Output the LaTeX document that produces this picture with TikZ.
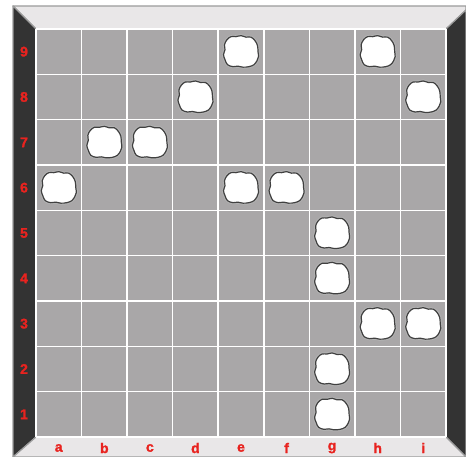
\documentclass[tikz,border=0pt]{standalone}
\usepackage{fontspec}
\setmainfont{Liberation Sans}
\newfontfamily\lblfont{Liberation Sans Bold}[FakeBold=1.5]
\begin{document}
\begin{tikzpicture}[x=1pt,y=-1pt,
  lightwall/.style={fill=wallLight,draw=rimGray,line width=1.2pt,line join=round},
  darkwall/.style={fill=wallDark,draw=rimGray,line width=1.2pt,line join=round},
  gridline/.style={draw=white,line width=1.6pt},
  lbl/.style={text=lblRed,font=\lblfont\fontsize{14}{14}\selectfont,inner sep=0pt},
  stoneshadow/.style={draw=black!30,line width=3.2pt},
  stonebody/.style={fill=white,draw=black!75,line width=1.2pt}]
\definecolor{wallLight}{HTML}{E9E7E8}
\definecolor{wallDark}{HTML}{333333}
\definecolor{rimGray}{HTML}{9C9C9C}
\definecolor{cellGray}{HTML}{A9A7A8}
\definecolor{lblRed}{HTML}{E8231F}
\useasboundingbox (0,0) rectangle (466,457);
% frame walls
\draw[lightwall] (13,6) -- (466,6) -- (466,10) -- (446,29) -- (36,29) -- cycle;
\draw[darkwall] (446,29) -- (466,10) -- (466,457) -- (446,437) -- cycle;
\draw[darkwall] (13,6) -- (36,29) -- (36,437) -- (13,457) -- cycle;
\draw[lightwall] (36,437) -- (446,437) -- (466,457) -- (13,457) -- cycle;
% board
\fill[cellGray] (36,29) rectangle (446,437);
\foreach \i in {0,...,9} {
  \draw[gridline] ({36+\i*410/9},29) -- ({36+\i*410/9},437);
  \draw[gridline] (36,{29+\i*408/9}) -- (446,{29+\i*408/9});
}
% labels
\foreach \r in {1,...,9}
  \node[lbl] (row\r) at (24,{29+(9-\r+0.5)*408/9}) {\r};
\foreach \l [count=\c from 0] in {a,b,c,d,e,f,g,h,i}
  \node[lbl] (col\l) at ({36+(\c+0.5)*410/9},448) {\l};
% stones
\newcommand\stoneblob{plot[smooth cycle,tension=0.6] coordinates {(17,0) (16.5,-6) (14,-11) (10,-14.5) (5,-14.5) (0,-16) (-5,-15) (-10,-15) (-14,-12) (-16.5,-7) (-16,-2) (-17.5,3) (-16,8) (-13.5,13) (-8,15) (-3,14.5) (2,15.5) (8,15) (13,13) (16,9) (17.5,5)}}
\foreach \c/\r in {4/9,7/9,3/8,8/8,1/7,2/7,0/6,4/6,5/6,6/5,6/4,7/3,8/3,6/2,6/1} {
  \begin{scope}[shift={({36+(\c+0.5)*410/9},{29+(9-\r+0.5)*408/9})}]
    \draw[stoneshadow] \stoneblob;
    \draw[stonebody] \stoneblob;
    \coordinate (stone\c\r) at (0,0);
  \end{scope}
}
\end{tikzpicture}
\end{document}
